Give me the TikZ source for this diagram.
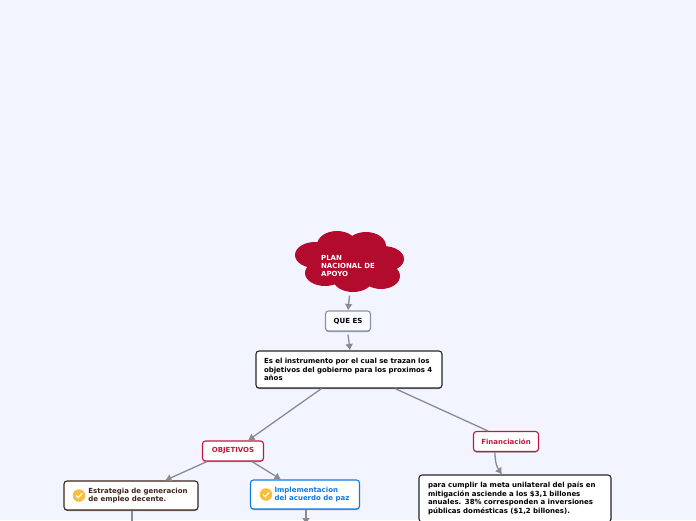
\documentclass[tikz,border=0pt]{standalone}
\usepackage{fontspec}
\setmainfont{DejaVu Sans}
\usetikzlibrary{shadows,arrows.meta}
\definecolor{pagebg}{HTML}{F2F5FF}
\definecolor{cloudred}{HTML}{B20B2D}
\definecolor{linkgray}{HTML}{8A8A92}
\definecolor{objred}{HTML}{C4173F}
\definecolor{implblue}{HTML}{0C7BEA}
\definecolor{estbrown}{HTML}{3E2418}
\definecolor{quegray}{HTML}{8A93A3}
\definecolor{tickyellow}{HTML}{F8BE3C}
\tikzset{
  box/.style={draw, rounded corners=3pt, fill=white, line width=1.1pt, inner sep=0pt, font=\bfseries\fontsize{7}{8.6}\selectfont, align=left, drop shadow={shadow xshift=0pt, shadow yshift=-1pt, opacity=0.4, fill=black}},
  link/.style={draw=linkgray, line width=1.3pt, -{Latex[length=6.5pt,width=8pt]}},
  plain/.style={draw=linkgray, line width=1.3pt},
  puff/.style={fill=cloudred, draw=none},
  tick/.style={circle, fill=tickyellow, inner sep=0pt, minimum size=12.5pt}
}
\begin{document}
\begin{tikzpicture}[x=1pt, y=-1pt, auto]
  \useasboundingbox[fill=pagebg] (0,0) rectangle (696,520);
  % cloud
  \foreach \cx/\cy/\rx/\ry in {337/245/20/14, 366/246/20/14, 383/259/21/13, 381/276/19/13, 353/279/20/13, 325/273/20/13, 315/255/20/13, 350/262/35/20}
    \fill[puff] (\cx,\cy) ellipse ({\rx pt} and {\ry pt});
  \node (PN) at (348,266) [font=\bfseries\fontsize{7}{8}\selectfont, text=white, align=left, inner sep=0pt] {PLAN\\NACIONAL DE\\APOYO};

  \node (QE) [box, draw=quegray, fill=pagebg!40!white, minimum width=45pt, minimum height=20pt, align=center, node distance=55pt, below of=PN] {QUE ES};
  \node (MAIN) [box, draw=black!85, minimum width=186pt, minimum height=37pt, text width=170pt, node distance=48.5pt, below of=QE, xshift=1pt] {Es el instrumento por el cual se trazan los\\objetivos del gobierno para los proximos 4\\años};
  \node (OBJ) [box, draw=objred, text=objred, minimum width=61pt, minimum height=20pt, align=center, node distance=81.5pt, below of=MAIN, xshift=-116pt] {OBJETIVOS};
  \node (FIN) [box, draw=objred, text=objred, minimum width=65pt, minimum height=20pt, align=center, node distance=72pt, below of=MAIN, xshift=157pt] {Financiación};
  \node (EST) [box, draw=estbrown, text=estbrown, minimum width=134pt, minimum height=29pt, node distance=44.5pt, below of=OBJ, xshift=-102pt] {\hspace*{14pt}Estrategia de generacion\\\hspace*{14pt}de empleo decente.};
  \node (IMP) [box, draw=implblue, text=implblue, minimum width=109pt, minimum height=29pt, node distance=43.5pt, below of=OBJ, xshift=72pt] {\hspace*{14pt}Implementacion\\\hspace*{14pt}del acuerdo de paz};
  \node (PARA) [box, draw=black!85, minimum width=192pt, minimum height=47pt, text width=174pt, font=\bfseries\fontsize{7}{8.8}\selectfont, node distance=57pt, below of=FIN, xshift=9pt] {para cumplir la meta unilateral del país en\\mitigación asciende a los \$3,1 billones\\anuales. 38\% corresponden a inversiones\\públicas domésticas (\$1,2 billones).};

  % icons
  \node (ESTTICK) [tick, node distance=0pt, below of=EST, xshift=-52pt] {};
  \node (IMPTICK) [tick, node distance=0pt, below of=IMP, xshift=-39pt] {};
  \foreach \ic in {ESTTICK,IMPTICK}
    \draw[white, line width=1.2pt] ([shift={(-3,0)}]\ic.center) -- ([shift={(-0.8,2.2)}]\ic.center) -- ([shift={(3.2,-2.2)}]\ic.center);

  \coordinate (CLOUDEND) at (349.5,295.5);
  \coordinate (ESTEND) at (132,523);
  \coordinate (IMPEND) at (306,524.5);

  \draw[link] (CLOUDEND) to (QE.north);
  \draw[link] ([yshift=-3pt]QE.south) to ([xshift=1pt]MAIN.north);
  \draw[link] ([xshift=-27.5pt]MAIN.south) to ([xshift=15pt]OBJ.north);
  \draw[plain] ([xshift=46pt]MAIN.south) to ([xshift=-18pt]FIN.north);
  \draw[link] ([xshift=-26pt]OBJ.south) to ([xshift=34pt]EST.north);
  \draw[link] ([xshift=19pt]OBJ.south) to ([xshift=-24pt]IMP.north);
  \draw[link] ([xshift=-11pt]FIN.south) to[bend right=18] ([xshift=-13pt]PARA.north);
  \draw[plain] (EST.south -| ESTEND) to (ESTEND);
  \draw[link] (IMP.south -| IMPEND) to (IMPEND);
\end{tikzpicture}
\end{document}
